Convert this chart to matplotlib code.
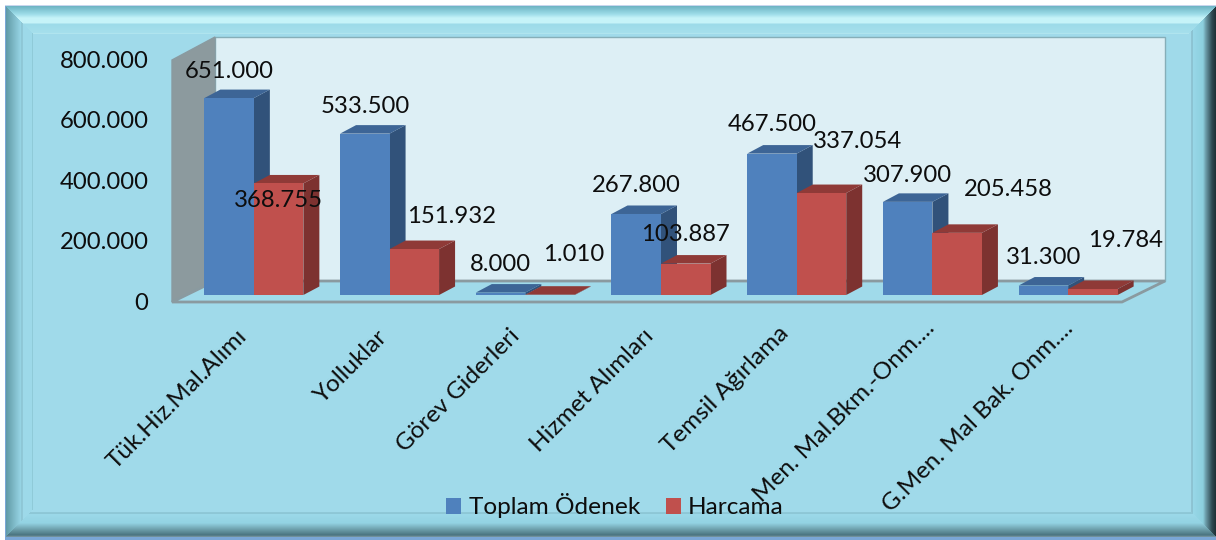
import numpy as np
import matplotlib
matplotlib.use("Agg")
import matplotlib.pyplot as plt
from matplotlib.patches import Polygon, Patch
from matplotlib.transforms import ScaledTranslation

categories = ["Tük.Hiz.Mal.Alımı", "Yolluklar", "Görev Giderleri", "Hizmet Alımları",
              "Temsil Ağırlama", "Men. Mal.Bkm.-Onm....", "G.Men. Mal Bak. Onm...."]
toplam_odenek = [651000, 533500, 8000, 267800, 467500, 307900, 31300]
harcama = [368755, 151932, 1010, 103887, 337054, 205458, 19784]
y_ticks = [0, 200000, 400000, 600000, 800000]
y_tick_labels = ["0", "200.000", "400.000", "600.000", "800.000"]
series_names = ["Toplam Ödenek", "Harcama"]

# hand placed data labels (pixel offset from the top centre of the bar: right, up)
blue_label_offsets = [(0, 27), (0, 27), (0, 28), (0, 28), (0, 29), (0, 26), (0, 28)]
red_label_offsets = [(0, -17), (37, 33), (24, 40), (0, 29), (36, 52), (51, 43), (33, 49)]
# hand placed category labels (pixel nudge: right, up)
category_label_nudges = [(-12, 3), (-7, 2), (-11, 3), (-13, 3), (-13, 6), (-3, 11), (0, 11)]

W, H = 1216, 540
plt.rcParams["font.family"] = ["Lato", "DejaVu Sans"]
fig = plt.figure(figsize=(W / 100, H / 100), dpi=100)
PANEL = "#A0DAEA"
TEXT = "#0d0d0d"

# ---- bevelled frame -------------------------------------------------------
bg = fig.add_axes([0, 0, 1, 1], zorder=0)
bg.set_xlim(0, W); bg.set_ylim(H, 0); bg.axis("off")
yy, xx = np.mgrid[0:H, 0:W] + 0.5
d_left, d_right, d_top, d_bot = xx - 6, W - xx, yy - 6, 537 - yy
dmin = np.minimum.reduce([d_left, d_right, d_top, d_bot])


def hexrgb(c):
    return np.array(matplotlib.colors.to_rgb(c))


def ramp(d, stops):
    pos = [s[0] for s in stops]
    cols = np.array([hexrgb(s[1]) for s in stops])
    return np.dstack([np.interp(d, pos, cols[:, i]) for i in range(3)])


img = np.ones((H, W, 3)) * hexrgb(PANEL)
ramps = [
    (d_left, [(0, "#5f9aa6"), (4, "#6fa9b6"), (15, "#98d6e6"), (16, "#84b8c6"), (17, "#9dd9e9"), (25.5, "#9dd9e9"), (26.5, "#8fcad8"), (27.5, PANEL)]),
    (d_right, [(0, "#1d2f35"), (4, "#2f4a52"), (10, "#6a9aa6"), (13, "#8ccfde"), (23, "#98d8e8"), (24, "#7fb0bc"), (25, PANEL)]),
    (d_top, [(0, "#6db3c2"), (8, "#9cdce8"), (12, "#c6f3f8"), (17, "#c6f3f8"), (18, "#9ddbe9"), (26.5, "#a5dfec"), (27.5, "#b0e4ee"), (28.5, PANEL)]),
    (d_bot, [(0, "#7f9aa5"), (2, "#4a7480"), (7, "#6a9aa6"), (14, "#93d3e3"), (23, "#9cd9e9"), (24, "#7fb6c4"), (25, PANEL)]),
]
for d, stops in ramps:
    m = (d == dmin) & (dmin < 30)
    img[m] = ramp(d, stops)[m]
img[dmin < 0] = hexrgb("#ffffff")
img[(yy > 537) & (xx > 6)] = hexrgb("#7aa6d6")
img[(xx > 5) & (xx < 6) & (yy > 6)] = hexrgb("#7aa6d6")
img[(yy > 5) & (yy < 6) & (xx > 5)] = hexrgb("#c9d6ee")
bg.imshow(img, extent=(0, W, H, 0), aspect="auto", interpolation="nearest")

# ---- plot axes: plane of the bar fronts -----------------------------------
L, R, B, T = 186, 1136, 295, 53
ax = fig.add_axes([L / W, 1 - B / H, (R - L) / W, (B - T) / H], zorder=1)
ax.patch.set_alpha(0)
ax.set_xlim(-0.5, len(categories) - 0.5)
ax.set_ylim(0, 800000)
for s in ax.spines.values():
    s.set_visible(False)


def px(x, y, dx=0, dy=0):
    p = ax.transData.transform((x, y))
    return (p[0] + dx, p[1] + dy)


def poly(pts, fc, ec="none", lw=0, z=2):
    ax.add_patch(Polygon(pts, closed=True, transform=None, facecolor=fc, edgecolor=ec,
                         linewidth=lw, zorder=z, clip_on=False))


x0, x1 = ax.get_xlim()
y0, y1 = ax.get_ylim()
FRONT = (-14, -7)
BACK = (29, 14)
BACK_TOP = (29, 16)
EDGE = "#8a9aa0"
# back wall
poly([px(x0, y0, *BACK), px(x1, y0, *BACK), px(x1, y1, *BACK_TOP), px(x0, y1, *BACK_TOP)], "#DDEFF5", "#86aeb8", 1.0, 1)
# side wall
poly([px(x0, y0, *FRONT), px(x0, y0, *BACK), px(x0, y1, *BACK_TOP), px(x0, y1, *FRONT)], "#8C9A9E", EDGE, 1.0, 1.1)
# floor
poly([px(x0, y0, *FRONT), px(x1, y0, *FRONT), px(x1, y0, *BACK), px(x0, y0, *BACK)], PANEL, EDGE, 2.0, 1.2)

# ---- bars -----------------------------------------------------------------
x = np.arange(len(categories))
bw = 49.5 / ((R - L) / len(categories))
DX, DY = 16, 8.5
SPECS = [
    (toplam_odenek, -bw / 2, "#4F81BD", "#31527A", "#3D6596", 3),
    (harcama, bw / 2, "#C0504D", "#7D3230", "#8F3A37", 4),
]
series_bars = []
for vals, off, face, side, top, z in SPECS:
    bars = ax.bar(x + off, vals, bw, color=face, zorder=z + 0.2, clip_on=False)
    series_bars.append(bars)
    for b in bars:
        xa, xb, h = b.get_x(), b.get_x() + b.get_width(), b.get_height()
        poly([px(xb, 0), px(xb, 0, DX, DY), px(xb, h, DX, DY), px(xb, h)], side, z=z)
        poly([px(xa, h), px(xb, h), px(xb, h, DX, DY), px(xa, h, DX, DY)], top, z=z + 0.1)

# ---- data labels ----------------------------------------------------------
LABEL_FS = 17.2


def fmt(v):
    return f"{v:,}".replace(",", ".")


for bars, vals, offs in ((series_bars[0], toplam_odenek, blue_label_offsets),
                         (series_bars[1], harcama, red_label_offsets)):
    for b, v, (ox, oy) in zip(bars, vals, offs):
        ax.annotate(fmt(v), (b.get_x() + b.get_width() / 2, v),
                    xytext=(ox * 0.72, oy * 0.72), textcoords="offset points",
                    ha="center", va="center", fontsize=LABEL_FS, color=TEXT, zorder=8,
                    annotation_clip=False)

# ---- axis labels ----------------------------------------------------------
ax.set_yticks(y_ticks, y_tick_labels, fontsize=LABEL_FS, color=TEXT)
ax.tick_params(axis="y", length=0, pad=27)
shift = ScaledTranslation(0, -4.5 / 72, fig.dpi_scale_trans)
for t in ax.get_yticklabels():
    t.set_transform(t.get_transform() + shift)
ax.set_xticks(x, categories, fontsize=17.5, color=TEXT, rotation=45, ha="right",
              rotation_mode="anchor")
ax.tick_params(axis="x", length=0, pad=24)
for t, (nx, ny) in zip(ax.get_xticklabels(), category_label_nudges):
    t.set_transform(t.get_transform() + ScaledTranslation((nx * 0.72 - 4) / 72, ny * 0.72 / 72,
                                                          fig.dpi_scale_trans))

# ---- legend ---------------------------------------------------------------
handles = [Patch(facecolor="#4F81BD", label=series_names[0]),
           Patch(facecolor="#C0504D", label=series_names[1])]
fig.legend(handles=handles, loc="center", bbox_to_anchor=(615 / W, 1 - 506 / H), ncol=2,
           frameon=False, fontsize=17.6, handlelength=0.62, handleheight=0.62,
           handletextpad=0.3, columnspacing=1.05, labelcolor=TEXT).set_zorder(9)

fig.savefig("out.png", dpi=100)
